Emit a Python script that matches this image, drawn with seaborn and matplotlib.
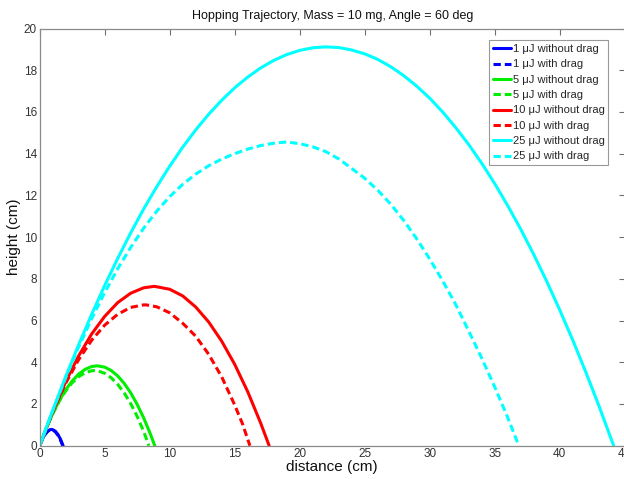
import matplotlib
matplotlib.use("Agg")
import matplotlib.pyplot as plt
import seaborn as sns
import pandas as pd

# ---------------- data ----------------
x_1_nd = [0, 0.2, 0.4, 0.6, 0.8, 0.9, 1.0, 1.2, 1.4, 1.6, 1.8]
y_1_nd = [0, 0.308, 0.539, 0.693, 0.770, 0.780, 0.770, 0.693, 0.539, 0.308, 0]
x_1_d = [0, 0.2, 0.4, 0.6, 0.8, 0.9, 1.0, 1.2, 1.4, 1.6, 1.77]
y_1_d = [0, 0.305, 0.530, 0.680, 0.755, 0.765, 0.755, 0.670, 0.500, 0.270, 0]

x_5_nd = [0, 0.5, 1, 1.5, 2, 2.5, 3, 3.5, 4, 4.425, 5, 5.5, 6, 6.5, 7, 7.5, 8, 8.5, 8.85]
y_5_nd = [0, 0.817, 1.535, 2.157, 2.680, 3.105, 3.433, 3.663, 3.795, 3.830,
          3.765, 3.604, 3.345, 2.988, 2.533, 1.980, 1.330, 0.582, 0]
x_5_d = [0, 0.5, 1, 1.5, 2, 2.5, 3, 3.5, 4, 4.2, 4.5, 5, 5.5, 6, 6.5, 7, 7.5, 8, 8.4]
y_5_d = [0, 0.820, 1.530, 2.130, 2.625, 3.020, 3.310, 3.500, 3.592, 3.600,
         3.582, 3.470, 3.255, 2.939, 2.530, 2.020, 1.400, 0.680, 0]

x_10_nd = [0, 1, 2, 3, 4, 5, 6, 7, 8, 8.825, 10, 11, 12, 13, 14, 15, 16, 17, 17.65]
y_10_nd = [0, 1.633, 3.07, 4.31, 5.36, 6.20, 6.86, 7.31, 7.57, 7.64,
           7.50, 7.18, 6.65, 5.93, 5.01, 3.90, 2.59, 1.08, 0]
x_10_d = [0, 1, 2, 3, 4, 5, 6, 7, 8, 8.2, 9, 10, 11, 12, 13, 14, 15, 15.6, 16.17]
y_10_d = [0, 1.62, 3.00, 4.13, 5.06, 5.78, 6.30, 6.63, 6.75, 6.75,
          6.66, 6.37, 5.87, 5.25, 4.38, 3.30, 1.95, 1.05, 0]

x_25_nd = [0, 1, 2, 3, 4, 5, 6, 7, 8, 9, 10, 11, 12, 13, 14, 15, 16, 17, 18, 19,
           20, 21, 22, 23, 24, 25, 26, 27, 28, 29, 30, 31, 32, 33, 34, 35, 36, 37,
           38, 39, 40, 41, 42, 43, 44.15]
y_25_nd = [0, 1.693, 3.31, 4.844, 6.30, 7.680, 8.98, 10.203, 11.35, 12.412, 13.40,
           14.307, 15.14, 15.889, 16.56, 17.156, 17.67, 18.109, 18.47, 18.749, 18.95,
           19.075, 19.12, 19.086, 18.97, 18.784, 18.52, 18.168, 17.74, 17.238, 16.66,
           15.995, 15.25, 14.437, 13.54, 12.565, 11.51, 10.380, 9.17, 7.881, 6.51,
           5.067, 3.54, 1.940, 0]
x_25_d = [0, 1, 2, 3, 4, 5, 6, 7, 8, 9, 10, 11, 12, 13, 14, 15, 16, 17, 18, 19,
          20, 21, 22, 23, 24, 25, 26, 27, 28, 29, 30, 31, 32, 33, 34, 35, 36, 36.85]
y_25_d = [0, 1.68, 3.26, 4.73, 6.09, 7.34, 8.48, 9.51, 10.43, 11.24, 11.94, 12.53,
          13.02, 13.42, 13.74, 14.00, 14.22, 14.39, 14.50, 14.56, 14.48, 14.33,
          14.10, 13.75, 13.29, 12.82, 12.25, 11.58, 10.80, 9.92, 8.95, 7.90, 6.77,
          5.50, 4.20, 2.82, 1.35, 0]

labels = ["1 μJ without drag", "1 μJ with drag",
          "5 μJ without drag", "5 μJ with drag",
          "10 μJ without drag", "10 μJ with drag",
          "25 μJ without drag", "25 μJ with drag"]
series_x = [x_1_nd, x_1_d, x_5_nd, x_5_d, x_10_nd, x_10_d, x_25_nd, x_25_d]
series_y = [y_1_nd, y_1_d, y_5_nd, y_5_d, y_10_nd, y_10_d, y_25_nd, y_25_d]
colors = ["#0000ff", "#0000ff", "#00ee00", "#00ee00",
          "#ff0000", "#ff0000", "#00ffff", "#00ffff"]
dashed = [False, True, False, True, False, True, False, True]

x_ticks = [0, 5, 10, 15, 20, 25, 30, 35, 40, 45]
y_ticks = [0, 2, 4, 6, 8, 10, 12, 14, 16, 18, 20]

# ---------------- plotting ----------------
sns.set_style("white")
plt.rcParams["font.family"] = ["Liberation Sans", "DejaVu Sans"]

fig = plt.figure(figsize=(6.24, 4.79), dpi=100)
ax = fig.add_axes([39.7 / 624, 33.3 / 479, 585 / 624, 417.2 / 479])

for xs, ys, lab, col, dsh in zip(series_x, series_y, labels, colors, dashed):
    df = pd.DataFrame({"distance": xs, "height": ys})
    sns.lineplot(data=df, x="distance", y="height", ax=ax, color=col,
                 linewidth=2.2, label=lab, sort=False, estimator=None)
    ax.lines[-1].set_solid_joinstyle("round")
    if dsh:
        ax.lines[-1].set_dashes((2.4, 1.3))

ax.set_xlim(0, 45)
ax.set_ylim(0, 20)
ax.set_xticks(x_ticks)
ax.set_yticks(y_ticks)
ax.tick_params(direction="in", top=True, right=True, length=4, width=0.8,
               color="#707070", labelcolor="#333333", labelsize=8.5, pad=2)
for sp in ax.spines.values():
    sp.set_color("#8a8a8a")
    sp.set_linewidth(0.9)

ax.set_title("Hopping Trajectory, Mass = 10 mg, Angle = 60 deg",
             fontsize=9, pad=7, color="#111111")
ax.set_xlabel("distance (cm)", fontsize=11, labelpad=0, color="#111111")
ax.set_ylabel("height (cm)", fontsize=11, labelpad=2, color="#111111")

leg = ax.legend(loc="upper right", bbox_to_anchor=(0.972, 0.972),
                borderaxespad=0, fontsize=8, handlelength=1.7,
                handletextpad=0.1, labelspacing=0.48, borderpad=0.35,
                fancybox=False, framealpha=1, edgecolor="#999999")
leg.get_frame().set_linewidth(0.8)
for h in leg.get_lines():
    h.set_linewidth(2.2)

fig.savefig("out.png", dpi=100)
